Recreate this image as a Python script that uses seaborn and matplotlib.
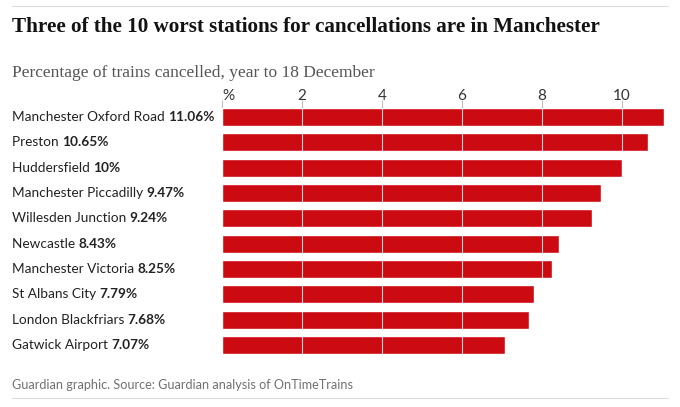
import matplotlib
matplotlib.use("Agg")
import matplotlib.pyplot as plt
import matplotlib.transforms as mtransforms
from matplotlib.lines import Line2D
import seaborn as sns
import pandas as pd

# Datos del gráfico
stations = [
    "Manchester Oxford Road", "Preston", "Huddersfield", "Manchester Piccadilly",
    "Willesden Junction", "Newcastle", "Manchester Victoria", "St Albans City",
    "London Blackfriars", "Gatwick Airport",
]
cancelled = [11.06, 10.65, 10.0, 9.47, 9.24, 8.43, 8.25, 7.79, 7.68, 7.07]
value_labels = ["11.06%", "10.65%", "10%", "9.47%", "9.24%", "8.43%",
                "8.25%", "7.79%", "7.68%", "7.07%"]
tick_values = [0, 2, 4, 6, 8, 10]
tick_labels = ["%", "2", "4", "6", "8", "10"]

df = pd.DataFrame({"station": stations, "cancelled": cancelled})

sns.set_style("white")
plt.rcParams["font.family"] = ["Lato", "DejaVu Sans"]

W, H = 680, 407
fig = plt.figure(figsize=(W / 100, H / 100), dpi=100)

# Ejes en píxeles: x 0 -> 222, 11.06 -> 664; barras de 108 a 354
left, right, top, bottom = 222, 664.4, 108, 354
ax = fig.add_axes([left / W, 1 - bottom / H, (right - left) / W, (bottom - top) / H])

bar_h = 0.71
sns.barplot(data=df, y="station", x="cancelled", orient="h", color="#cc0a11",
            saturation=1, width=bar_h, ax=ax, zorder=2)
ax.set_xlim(0, 11.06)
ax.set_ylim(len(stations) - 1 + bar_h / 2, -bar_h / 2)

# Líneas de la cuadrícula sobre las barras
for v in tick_values[1:]:
    ax.axvline(v, color="white", lw=0.8, alpha=0.8, zorder=3)

for s in ax.spines.values():
    s.set_visible(False)
ax.set_xlabel("")
ax.set_ylabel("")
ax.set_yticks([])
ax.xaxis.tick_top()
ax.set_xticks(tick_values)
ax.set_xticklabels(tick_labels)
ax.tick_params(axis="x", direction="out", length=5.5, width=0.8, color="#bbbbbb",
               pad=-2, labelsize=11, labelcolor="#333333")
ax.get_xticklabels()[0].set_ha("left")

# Etiquetas de estaciones: nombre normal + valor en negrita
trans = mtransforms.blended_transform_factory(fig.transFigure, ax.transData)
for i, (name, val) in enumerate(zip(stations, value_labels)):
    t = ax.text(12 / W, i, name + " ", transform=trans, ha="left", va="center",
                fontsize=9.8, color="#222222")
    ax.annotate(val, xy=(1, 0), xycoords=t, ha="left", va="bottom",
                fontsize=9.8, fontweight="bold", color="#222222")

fig.text(12 / W, 1 - 27 / H, "Three of the 10 worst stations for cancellations are in Manchester",
         family="Liberation Serif", fontweight="bold", fontsize=15.2, color="#121212",
         ha="left", va="center")
fig.text(12 / W, 1 - 73 / H, "Percentage of trains cancelled, year to 18 December",
         family="Liberation Serif", fontsize=12.5, color="#555555", ha="left", va="center")
fig.text(12 / W, 1 - 385 / H, "Guardian graphic. Source: Guardian analysis of OnTimeTrains",
         fontsize=9.1, color="#707070", ha="left", va="center")

# Reglas horizontales arriba y abajo
for y in (6, 398):
    fig.add_artist(Line2D([12 / W, 668 / W], [1 - y / H, 1 - y / H],
                          transform=fig.transFigure, color="#dcdcdc", lw=0.8))

fig.savefig("out.png", dpi=100)
